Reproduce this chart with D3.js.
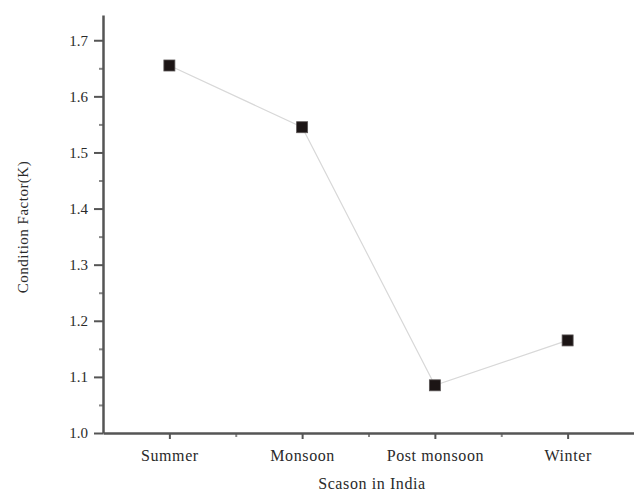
<!DOCTYPE html>
<html>
<head>
<meta charset="utf-8">
<script src="https://cdn.jsdelivr.net/npm/d3@7"></script>
<style>
  body { margin: 0; background: #fff; }
  svg text { font-family: "Liberation Serif", "DejaVu Serif", serif; fill: #2a2a2a; }
</style>
</head>
<body>
<svg id="chart"></svg>
<script>
// Data
const seasons = ["Summer", "Monsoon", "Post monsoon", "Winter"];
const conditionK = [1.655, 1.545, 1.085, 1.165];
const yTicks = [1.0, 1.1, 1.2, 1.3, 1.4, 1.5, 1.6, 1.7];
const yMinorTicks = [1.05, 1.15, 1.25, 1.35, 1.45, 1.55, 1.65];

const width = 634, height = 494;
const margin = { top: 15, right: 0, bottom: 61, left: 103 };

const svg = d3.select("#chart").attr("width", width).attr("height", height);

const x = d3.scaleLinear()
  .domain([0.5, seasons.length + 0.5])
  .range([margin.left, width - margin.right]);

const y = d3.scaleLinear()
  .domain([1.0, 1.745])
  .range([height - margin.bottom, margin.top]);

const axisColor = "#555";

// minor ticks first so the axis line sits on top
svg.append("g")
  .attr("transform", `translate(0,${height - margin.bottom})`)
  .call(d3.axisBottom(x).tickValues([1.5, 2.5, 3.5]).tickSize(4).tickFormat(""))
  .call(g => g.select(".domain").remove())
  .call(g => g.selectAll("line").attr("stroke", "#888").attr("stroke-width", 2));

svg.append("g")
  .attr("transform", `translate(${margin.left},0)`)
  .call(d3.axisLeft(y).tickValues(yMinorTicks).tickSize(4).tickFormat(""))
  .call(g => g.select(".domain").remove())
  .call(g => g.selectAll("line").attr("stroke", "#888").attr("stroke-width", 2));

// x axis
const xAxisG = svg.append("g")
  .attr("transform", `translate(0,${height - margin.bottom})`)
  .call(d3.axisBottom(x)
    .tickValues(seasons.map((d, i) => i + 1))
    .tickSize(6)
    .tickSizeOuter(0)
    .tickPadding(11)
    .tickFormat((d, i) => seasons[i]));

xAxisG.select(".domain").attr("stroke", axisColor).attr("stroke-width", 2.5);
xAxisG.selectAll("line").attr("stroke", axisColor).attr("stroke-width", 2);
xAxisG.selectAll("text")
  .style("font-size", "16px")
  .style("letter-spacing", "0.6px")
  .attr("fill", "#2a2a2a");

// y axis
const yAxisG = svg.append("g")
  .attr("transform", `translate(${margin.left},0)`)
  .call(d3.axisLeft(y)
    .tickValues(yTicks)
    .tickSize(9)
    .tickSizeOuter(0)
    .tickPadding(6)
    .tickFormat(d3.format(".1f")));

yAxisG.select(".domain").attr("stroke", axisColor).attr("stroke-width", 2.5);
yAxisG.selectAll("line").attr("stroke", axisColor).attr("stroke-width", 2);
yAxisG.selectAll("text").style("font-size", "15px").attr("fill", "#2a2a2a");

// line
const line = d3.line()
  .x((d, i) => x(i + 1))
  .y(d => y(d));

svg.append("path")
  .datum(conditionK)
  .attr("fill", "none")
  .attr("stroke", "#d8d8d8")
  .attr("stroke-width", 1.2)
  .attr("d", line);

// square markers
const s = 11;
svg.selectAll(".point")
  .data(conditionK)
  .join("rect")
  .attr("class", "point")
  .attr("x", (d, i) => x(i + 1) - s / 2)
  .attr("y", d => y(d) - s / 2)
  .attr("width", s)
  .attr("height", s)
  .attr("fill", "#1c1515")
  .attr("stroke", "#5a5555")
  .attr("stroke-width", 0.8);

// axis titles
svg.append("text")
  .attr("x", 372)
  .attr("y", 489)
  .attr("text-anchor", "middle")
  .style("font-size", "16px")
  .style("letter-spacing", "0.6px")
  .text("Scason in India");

svg.append("text")
  .attr("transform", "translate(28,227) rotate(-90)")
  .attr("text-anchor", "middle")
  .style("font-size", "15px")
  .style("letter-spacing", "0.5px")
  .text("Condition Factor(K)");
</script>
</body>
</html>
